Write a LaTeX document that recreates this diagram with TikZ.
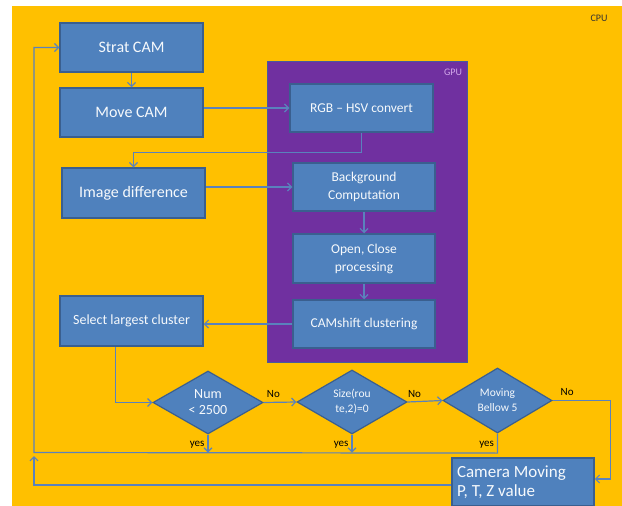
\documentclass[tikz,border=0pt]{standalone}
\usepackage{fontspec}
\setmainfont{Carlito}
\usetikzlibrary{shapes.geometric,arrows.meta}
\definecolor{cpuyellow}{HTML}{FFC000}
\definecolor{gpupurple}{HTML}{7030A0}
\definecolor{gpuedge}{HTML}{4A5A9A}
\definecolor{gputext}{HTML}{D2A8EA}
\definecolor{boxblue}{HTML}{4F81BD}
\definecolor{boxedge}{HTML}{3A5F8F}
\definecolor{lineblue}{HTML}{5A82BC}

\begin{document}
\begin{tikzpicture}[x=1pt,y=-1pt,
  procbox/.style={draw=boxedge, line width=1.5pt, fill=boxblue, text=white!95!boxblue,
    minimum width=143pt, minimum height=49pt, inner sep=2pt, align=center,
    font=\fontsize{16}{19}\selectfont},
  gpubox/.style={procbox, minimum width=142pt, minimum height=48pt,
    font=\fontsize{13.5}{18}\selectfont},
  decision/.style={diamond, draw=boxedge, line width=1.2pt, fill=boxblue,
    text=white!95!boxblue, shape aspect=1.75, inner sep=0pt, align=center},
  flow/.style={draw=lineblue, line width=1.2pt, -{Straight Barb[length=4pt,width=8pt]}},
  lbl/.style={font=\fontsize{11}{13}\selectfont, text=black, inner sep=1pt}]
\useasboundingbox (0,0) rectangle (622,506);
\fill[cpuyellow] (12,6) rectangle (622,506);
\node[font=\fontsize{10}{12}\selectfont, text=black!80] (cpu) at (599,18) {CPU};
\draw[gpuedge, line width=0.8pt, fill=gpupurple] (267,61) rectangle (467,362);
\node[font=\fontsize{10}{12}\selectfont, text=gputext] (gpu) at (453,72) {GPU};

% CPU side
\node[procbox] (start) at (131.5,47.5) {Strat CAM};
\node[procbox] (move) at (131.5,112.5) {Move CAM};
\node[procbox, minimum height=50pt] (imgdiff) at (133.5,193) {Image difference};
\node[procbox, minimum height=50pt, font=\fontsize{14}{17}\selectfont] (select) at (131.5,321) {Select largest cluster};

% GPU side
\node[gpubox, minimum width=143pt] (rgb) at (361.5,108) {RGB -- HSV convert};
\node[gpubox] (bg) at (364,187) {Background\\Computation};
\node[gpubox, minimum height=49pt] (open) at (364,258.5) {Open, Close\\processing};
\node[gpubox] (camshift) at (364,324) {CAMshift clustering};

% decisions
\node[decision, minimum width=110pt, minimum height=63pt, font=\fontsize{14}{16}\selectfont] (num) at (208,402.5) {Num\\< 2500};
\node[decision, minimum width=110pt, minimum height=64pt, font=\fontsize{11.5}{15}\selectfont] (size) at (352,402) {Size(rou\\te,2)=0};
\node[decision, minimum width=109pt, minimum height=65pt, font=\fontsize{11.5}{15}\selectfont] (moving) at (497.5,400.5) {Moving\\Bellow 5};
\node[procbox, minimum width=142pt, minimum height=48pt, text width=132pt, inner sep=5pt,
  align=flush left, font=\fontsize{17}{19}\selectfont] (camera) at (523,482) {Camera Moving\\P, T, Z value};

\coordinate (loopa) at (34,452.5);
\coordinate (loopb) at (34,485);

\draw[flow] (start) -- (move);
\draw[flow] (move.east |- rgb.west) -- (rgb.west);
\draw[flow] (rgb.south) -- ++(0,20) -| (imgdiff.north);
\draw[flow] (imgdiff.east |- bg.west) -- (bg.west);
\draw[flow] (bg) -- (open);
\draw[flow] (open) -- (camshift);
\draw[flow] (camshift.west) -- (camshift.west -| select.east);
\draw[flow] ([xshift=-16pt]select.south) |- (num.west);
\draw[flow] (num.east) -- node[lbl, pos=0.3, above=3pt] (no1) {No} (size.west);
\draw[flow] (size.east) -- node[lbl, pos=0.2, above=3pt] (no2) {No} (moving.west);
\draw[flow] (moving.east) -- node[lbl, pos=0.25, above=3pt] (no3) {No} ++(58,0) |- ([yshift=3pt]camera.east);
\draw[flow] (num.south) -- node[lbl, pos=0.55, left=2pt] (yes1) {yes} ++(0,18);
\draw[flow] (size.south) -- node[lbl, pos=0.55, left=2pt] (yes2) {yes} ++(0,18);
\draw[flow] (moving.south) -- node[lbl, pos=0.55, left=2pt] (yes3) {yes} ++(0,19.5) -- (loopa) |- (start.west);
\draw[flow] ([yshift=-3pt]camera.west) -- (loopb) -- ++(0,-29);
\end{tikzpicture}
\end{document}
